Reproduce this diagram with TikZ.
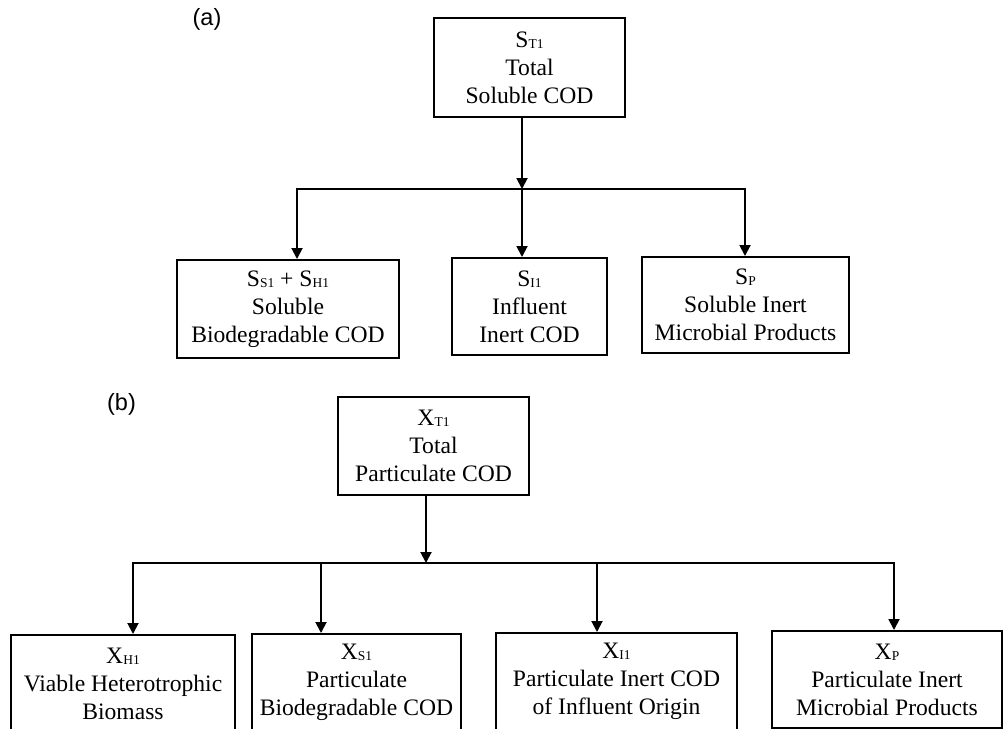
\documentclass[tikz,border=0pt]{standalone}
\usepackage{fontspec}
\setmainfont{Liberation Serif}
\setsansfont{Liberation Sans}
\usetikzlibrary{arrows.meta}
\newcommand\sbs[1]{\raisebox{-1.2pt}{\fontsize{13.5}{13.5}\selectfont #1}}
\tikzset{
  box/.style={draw, line width=2pt, rectangle, inner sep=0pt, align=center,
    font=\fontsize{23.6}{28}\selectfont},
  arr/.style={line width=1.9pt, -{Triangle[length=11pt,width=11pt]}},
  lab/.style={font=\sffamily\fontsize{23.5}{28}\selectfont, inner sep=0pt}
}
\begin{document}
\begin{tikzpicture}[x=1pt,y=-1pt]
\useasboundingbox (0,0) rectangle (1003,728);
\clip (0,0) rectangle (1003,728);
% (a)
\node[lab] (la) at (207,19) {(a)};
\node[box, minimum width=191pt, minimum height=99pt] (atop) at (529.5,67.5) {S\sbs{T1}\\Total\\Soluble COD};
\node[box, minimum width=222pt, minimum height=98pt] (a1) at (288,309) {S\sbs{S1} + S\sbs{H1}\\Soluble\\Biodegradable COD};
\node[box, minimum width=155pt, minimum height=97pt] (a2) at (529.5,306.5) {S\sbs{I1}\\Influent\\Inert COD};
\node[box, minimum width=207pt, minimum height=96pt] (a3) at (745.5,305) {S\sbs{P}\\Soluble Inert\\Microbial Products};
\coordinate (ja) at (522,189);
\draw[arr] ([xshift=-7.5pt]atop.south) -- (ja);
\draw[arr] (ja) -| ([xshift=9pt]a1.north);
\draw[arr] (ja) -| ([xshift=-0.5pt]a3.north);
\draw[arr] (ja) -- ([xshift=-7.5pt]a2.north);
% (b)
\node[lab] (lb) at (121.5,404) {(b)};
\node[box, minimum width=191pt, minimum height=98pt] (btop) at (433.5,446) {X\sbs{T1}\\Total\\Particulate COD};
\node[box, minimum width=224pt, minimum height=97pt] (b1) at (123,683.5) {X\sbs{H1}\\Viable Heterotrophic\\Biomass};
\node[box, minimum width=209pt, minimum height=97pt] (b2) at (356.5,682.5) {X\sbs{S1}\\Particulate\\Biodegradable COD};
\node[box, minimum width=241pt, minimum height=97pt] (b3) at (616.5,681.5) {X\sbs{I1}\\Particulate Inert COD\\of Influent Origin};
\node[box, minimum width=230pt, minimum height=97pt] (b4) at (887,679.5) {X\sbs{P}\\Particulate Inert\\Microbial Products};
\coordinate (jb) at (426,563);
\draw[arr] ([xshift=-7.5pt]btop.south) -- (jb);
\draw[arr] (jb) -| ([xshift=10pt]b1.north);
\draw[arr] (jb) -| ([xshift=-35.5pt]b2.north);
\draw[arr] (jb) -| ([xshift=-19.5pt]b3.north);
\draw[arr] (jb) -| ([xshift=7pt]b4.north);
\end{tikzpicture}
\end{document}
